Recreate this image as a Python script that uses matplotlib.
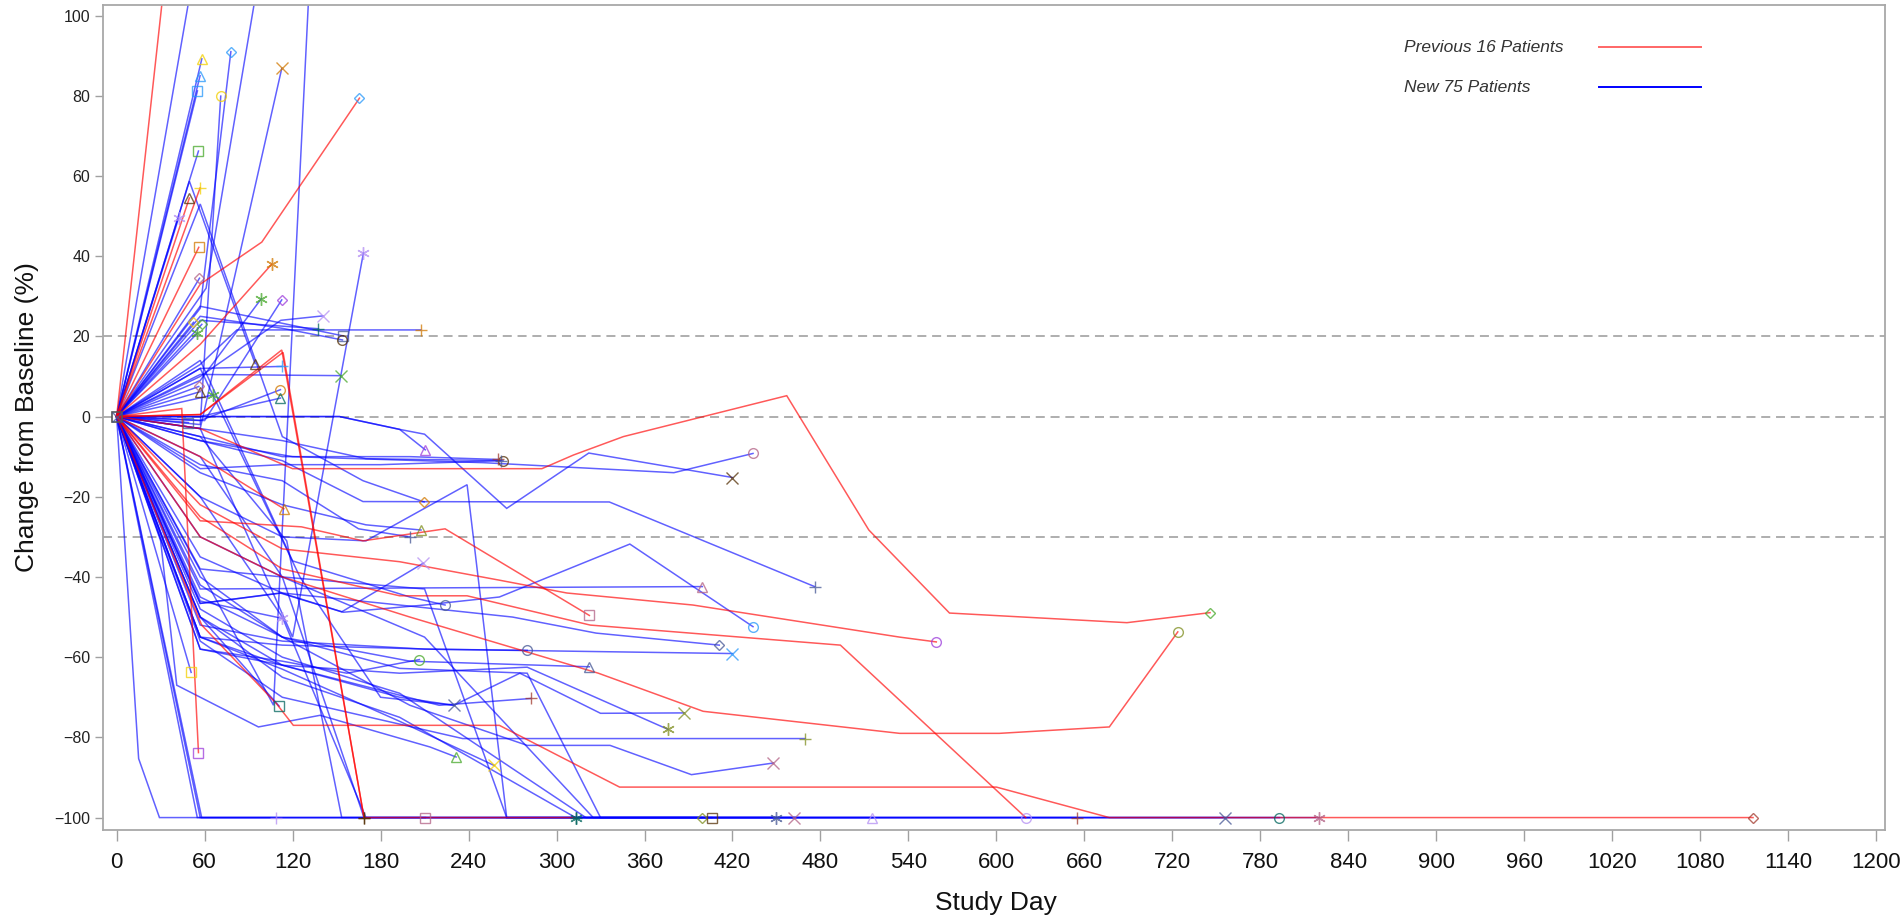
import numpy as np
import matplotlib.pyplot as plt

plt.rcParams['font.family'] = ['Liberation Sans', 'DejaVu Sans']

# tumour size change per patient: study day and % change from baseline
prev_days = [
    [0, 60],
    [0, 57, 99, 165.6],
    [0, 57, 105.8],
    [0, 56.9],
    [0, 49.6],
    [0, 56],
    [0, 57, 112.6, 168.7],
    [0, 44.4, 55.8],
    [0, 57, 126, 168, 224, 322.4],
    [0, 57, 113, 193, 261, 307, 393, 534, 559],
    [0, 57, 120, 290, 311.5, 345.6, 457, 513, 568, 689, 745.7],
    [0, 57, 113, 200, 328.5, 400, 534, 602, 677, 723.7],
    [0, 58, 109, 120.5, 261, 343, 600, 677, 1116],
    [0, 57, 113, 193, 239, 323, 493.6, 620],
    [0, 57, 113.5, 168.7, 313],
    [0, 57, 114],
]
prev_pct = [
    [0, 200],
    [0, 33, 43.5, 79.4],
    [0, 18, 38],
    [0, 57],
    [0, 54.5],
    [0, 42.2],
    [0, 0.5, 16.6, -100],
    [0, 2, -83.8],
    [0, -26, -27.5, -31, -28, -49.6],
    [0, -22, -33, -36.2, -40.8, -44, -47, -55, -56.2],
    [0, -3, -13, -13, -9.6, -5, 5.2, -28.3, -49, -51.4, -48.9],
    [0, -30, -40, -50, -64, -73.5, -79, -79, -77.4, -53.7],
    [0, -52, -71.6, -77, -77, -92.4, -92.4, -100, -100],
    [0, -25, -38, -44.7, -44.7, -52, -57, -100],
    [0, 0.5, 16, -100, -100],
    [0, -10, -23],
]
prev_sym = ['circle', 'diamond', 'asterisk', 'plus', 'triangle', 'square', 'plus', 'square',
            'square', 'circle', 'diamond', 'circle', 'diamond', 'circle', 'asterisk', 'triangle']
prev_col = ['purple', 'lightblue', 'orange', 'yellow', 'brown', 'orange', 'brown', 'purple',
            'pink', 'purple', 'green', 'olive', 'red', 'lavender', 'teal', 'orange']

new_days = [
    [0, 56], [0, 61, 98], [0, 107, 131], [0, 57, 120, 168.3], [0, 49.6, 94.4],
    [0, 57, 113, 168, 209.7], [0, 57, 71], [0, 57, 77.9], [0, 57, 112.6], [0, 57, 154.6],
    [0, 57, 113, 154], [0, 57, 82, 207.4], [0, 57, 112, 140.6], [0, 57, 137.6], [0, 57, 98.7],
    [0, 60, 112.6], [0, 57, 112.6], [0, 57, 152.9], [0, 57, 111.7], [0, 57, 111.7],
    [0, 56.9], [0, 66], [0, 56], [0, 52.4], [0, 58.1],
    [0, 55.1], [0, 56.5], [0, 42.2], [0, 49], [0, 58.1],
    [0, 56.9], [0, 55.1], [0, 55.8], [0, 152, 193, 210.5], [0, 57, 113, 170, 263.5],
    [0, 57, 113, 200, 260], [0, 152, 193, 210, 266, 322, 420], [0, 57, 120, 250, 380, 434],
    [0, 57, 113, 168, 336, 476], [0, 57, 113, 170, 207.6],
    [0, 57, 113, 170, 239, 266, 399], [0, 15, 29.2, 108.5], [0, 55, 756], [0, 57, 793], [0, 58, 820],
    [0, 30, 41, 96.7, 138.7, 213.7, 231.5], [0, 57, 116, 153.5, 655], [0, 57, 399.4],
    [0, 57, 113, 210, 266, 406], [0, 57, 112.6, 154.6, 210, 261, 350, 434],
    [0, 57, 113, 193, 270, 327, 411], [0, 57, 113, 213, 420], [0, 57, 113, 210, 280],
    [0, 57, 113, 157, 206.5], [0, 57, 113, 200, 322.4],
    [0, 57, 113, 220, 282.6], [0, 57, 113, 193, 230, 275, 330, 387],
    [0, 57, 113, 193, 280, 376], [0, 57, 113, 236, 469.4], [0, 57, 113, 193, 257.4],
    [0, 57, 113, 200, 280, 336.5, 392, 447.8], [0, 57, 110.8], [0, 57, 112.6], [0, 50.8],
    [0, 57, 111.5, 153.5, 209],
    [0, 57, 113, 210, 325, 449.5], [0, 57, 113, 193, 280, 330, 462], [0, 57, 113, 193, 320, 515],
    [0, 57, 113, 193, 313], [0, 57, 113, 168.7],
    [0, 57, 113, 170, 210.5], [0, 57, 113, 165, 200], [0, 57, 113, 180, 262],
    [0, 57, 120, 200, 224], [0, 57, 125, 180, 230],
]
new_pct = [
    [0, 118], [0, 32, 112], [0, -72, 105], [0, -3, -55, 40.8], [0, 58.7, 13.2],
    [0, 53, -5, -16, -21.3], [0, -2, 79.9], [0, 27, 91], [0, -3, 86.8], [0, 27.5, 20.1],
    [0, 25, 22, 19.1], [0, 13, 21.6, 21.6], [0, 10, 24, 25.1], [0, 24, 21.9], [0, 9, 29.4],
    [0, -1, 29.1], [0, 12, 12.5], [0, 10.5, 10.2], [0, -1, 6.7], [0, 0, 4.6],
    [0, 6.2], [0, 5.4], [0, 7.5], [0, 23.5], [0, 23],
    [0, 20.8], [0, 34.5], [0, 49.4], [0, -1.5], [0, 89.2],
    [0, 85], [0, 81.2], [0, 66.2], [0, 0, -3.2, -8.3], [0, -3, -6, -10.5, -11],
    [0, -5, -10, -10, -10.7], [0, 0, -3.2, -4.4, -22.9, -9.1, -15.2], [0, -6, -10, -11.5, -14, -9.2],
    [0, -6, -11, -21.2, -21.3, -42.4], [0, -14, -22, -27, -28.3],
    [0, -20, -30, -31, -17, -100, -100], [0, -85.3, -100, -100], [0, -100, -100], [0, -100, -100], [0, -100, -100],
    [0, -31, -67, -77.4, -74.5, -82.4, -84.9], [0, -5, -31, -100, -100], [0, -43, -42.4],
    [0, -38, -40, -43, -100, -100], [0, -46.6, -44, -48.8, -47, -45, -31.8, -52.4],
    [0, -35, -44, -47, -50, -54, -57], [0, -55, -57, -58, -59.1], [0, -52, -56, -58, -58.3],
    [0, -58, -61, -64, -60.6], [0, -42, -55, -61, -62.4],
    [0, -55, -62, -72, -70.3], [0, -50, -62, -70, -72, -64, -74, -73.9],
    [0, -58, -62, -64, -62.5, -78], [0, -56, -70, -80.3, -80.3], [0, -55, -63, -76, -87],
    [0, -40, -55, -72, -82, -82, -89.3, -86.4], [0, -50, -72.2], [0, -46, -50.3], [0, -63.8],
    [0, -46.6, -44, -48.7, -36.6],
    [0, -30, -40, -55, -100, -100], [0, -45, -55, -62.8, -64, -100, -100], [0, -48, -60, -69, -100, -100],
    [0, -50, -65, -75, -100], [0, -10, -40, -100],
    [0, -20, -50, -100, -100], [0, -12, -16, -28, -30], [0, -13, -12, -12, -11],
    [0, 14, -36, -45, -47], [0, 12, -40, -70, -72],
]
new_sym = [
    'circle', 'circle', 'circle', 'asterisk', 'triangle',
    'diamond', 'circle', 'diamond', 'x', 'square',
    'circle', 'plus', 'x', 'plus', 'asterisk',
    'diamond', 'plus', 'x', 'circle', 'triangle',
    'triangle', 'asterisk', 'diamond', 'diamond', 'diamond',
    'asterisk', 'diamond', 'asterisk', 'square', 'triangle',
    'triangle', 'square', 'square', 'triangle', 'circle',
    'plus', 'x', 'circle', 'plus', 'triangle',
    'diamond', 'plus', 'x', 'circle', 'asterisk',
    'triangle', 'plus', 'triangle', 'square', 'circle',
    'diamond', 'x', 'circle', 'circle', 'triangle',
    'plus', 'x', 'asterisk', 'plus', 'x',
    'x', 'square', 'asterisk', 'square', 'x',
    'asterisk', 'x', 'triangle', 'plus', 'plus',
    'square', 'plus', 'plus', 'circle', 'x',
]
new_col = [
    'slate', 'slate', 'slate', 'lavender', 'brown',
    'orange', 'yellow', 'lightblue', 'orange', 'slate',
    'brown', 'orange', 'lavender', 'teal', 'green',
    'purple', 'lightblue', 'green', 'orange', 'teal',
    'brown', 'green', 'pink', 'yellow', 'green',
    'green', 'pink', 'lavender', 'slate', 'yellow',
    'lightblue', 'lightblue', 'green', 'purple', 'brown',
    'red', 'brown', 'pink', 'slate', 'olive',
    'olive', 'lavender', 'slate', 'teal', 'pink',
    'green', 'red', 'pink', 'brown', 'lightblue',
    'slate', 'lightblue', 'slate', 'green', 'slate',
    'red', 'olive', 'olive', 'olive', 'yellow',
    'pink', 'teal', 'lavender', 'yellow', 'lavender',
    'slate', 'pink', 'lavender', 'teal', 'brown',
    'pink', 'slate', 'slate', 'slate', 'slate',
]

ref_levels = [20, 0, -30]
x_ticks = np.arange(0, 1201, 60)
y_ticks = np.arange(-100, 101, 20)

group_labels = ['Previous 16 Patients', 'New 75 Patients']

palette = {
    'slate': '#445694', 'red': '#A23A2E', 'teal': '#01665E', 'brown': '#543005',
    'purple': '#9D3CDB', 'olive': '#7F8E1F', 'lightblue': '#2597FA', 'pink': '#B26084',
    'orange': '#D17800', 'green': '#47A82A', 'lavender': '#B38EF3', 'yellow': '#F2CF00',
}
symbols = {
    'circle': ('o', 7), 'plus': ('+', 9), 'x': ('x', 8), 'triangle': ('^', 7),
    'square': ('s', 7), 'asterisk': ((6, 2, 0), 9), 'diamond': ('D', 5.5),
}

fig = plt.figure(figsize=(19.03, 9.19), dpi=100)
ax = fig.add_axes([103.3 / 1903, 1 - 830 / 919, (1885 - 103.3) / 1903, (830 - 4.7) / 919])

for ref in ref_levels:
    ax.axhline(ref, color='#a8a8a8', lw=1.3, dashes=(5, 3.2), zorder=1)

def draw_group(days_list, pct_list, syms, cols, line_rgba):
    for days, pct, s, c in zip(days_list, pct_list, syms, cols):
        ax.plot(days, pct, color=line_rgba, lw=1.1, zorder=2, solid_joinstyle='miter')
        m, ms = symbols[s]
        ax.plot(days[-1], pct[-1], linestyle='none', marker=m, ms=ms, mfc='none',
                mec=palette[c], mew=1.0, alpha=0.75, zorder=4)

draw_group(new_days, new_pct, new_sym, new_col, (0, 0, 1, 0.62))
draw_group(prev_days, prev_pct, prev_sym, prev_col, (1, 0, 0, 0.65))

# baseline visit markers, all patients start at day 0
ax.plot([0], [0], linestyle='none', marker='s', ms=7, mfc='none', mec='#555555', mew=1.2, zorder=5)
ax.plot([0], [0], linestyle='none', marker='x', ms=7, mec='#445694', mew=1.0, alpha=0.8, zorder=5)

ax.set_xlim(-9.1, 1206)
ax.set_ylim(-103.1, 102.7)
ax.set_xticks(x_ticks)
ax.set_yticks(y_ticks)
ax.tick_params(axis='x', length=8, width=1, color='#a0a0a0', pad=8, labelsize=16, labelcolor='#111111')
ax.tick_params(axis='y', length=6, width=1, color='#a0a0a0', pad=3.5, labelsize=11.5, labelcolor='#222222')
for sp in ax.spines.values():
    sp.set_color('#a8a8a8')
    sp.set_linewidth(1.3)

fig.text(27 / 1903, 1 - 417 / 919, 'Change from Baseline (%)', rotation=90, ha='center', va='center', fontsize=19, color='#111111')
fig.text(996 / 1903, 1 - 910 / 919, 'Study Day', ha='center', va='baseline', fontsize=19, color='#111111')

# legend drawn by hand: label on the left, line sample on the right
leg_rgba = [(1, 0, 0, 0.6), (0, 0, 1, 1.0)]
for i, (lab, rgba) in enumerate(zip(group_labels, leg_rgba)):
    yb = 1 - (51.7 + 40 * i) / 919
    yl = 1 - (46.7 + 40.6 * i) / 919
    fig.text(1404 / 1903, yb, lab, ha='left', va='baseline', fontsize=12.5, style='italic', color='#333333')
    fig.add_artist(plt.Line2D([1599 / 1903, 1701 / 1903], [yl, yl], color=rgba, lw=1.4))

fig.savefig('out.png', dpi=100)
